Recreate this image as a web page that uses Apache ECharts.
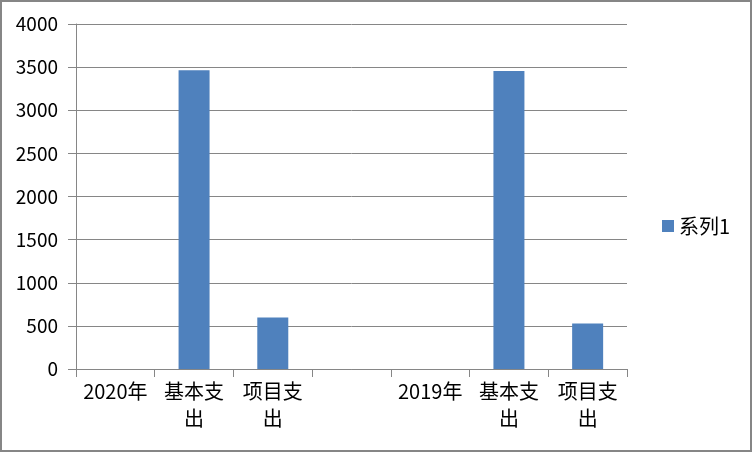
<!DOCTYPE html>
<html><head><meta charset="utf-8">
<script src="https://cdn.jsdelivr.net/npm/echarts@6/dist/echarts.min.js"></script>
<style>html,body{margin:0;padding:0;background:#fff}#c{width:752px;height:452px}</style>
</head><body><div id="c"></div>
<script>
var categories = ["2020年", "基本支出", "项目支出", "", "2019年", "基本支出", "项目支出"];
var seriesName = "系列1";
var values = [null, 3465, 596, null, null, 3454, 527];
var yMin = 0, yMax = 4000, yStep = 500;

var chart = echarts.init(document.getElementById('c'));
var font = '"Noto Sans CJK SC", "Liberation Sans", sans-serif';
chart.setOption({
  animation: false,
  backgroundColor: '#fff',
  textStyle: {fontFamily: font},
  graphic: [{type: 'rect', shape: {x: 1, y: 1, width: 750, height: 450}, style: {fill: 'none', stroke: '#868686', lineWidth: 2}, silent: true}],
  grid: {left: 76, right: 125, top: 24, bottom: 83},
  legend: {
    orient: 'vertical', left: 657, top: 'middle', data: [seriesName],
    itemWidth: 12, itemHeight: 12, itemGap: 8, icon: 'rect',
    textStyle: {fontSize: 20, color: '#000', fontFamily: font}
  },
  xAxis: {
    type: 'category', data: categories,
    axisLine: {lineStyle: {color: '#868686', width: 1}},
    axisTick: {show: true, length: 8, lineStyle: {color: '#868686'}},
    axisLabel: {
      interval: 0, color: '#000', fontSize: 20, lineHeight: 27, margin: 9,
      formatter: function (v) { return v.length > 3 && v.indexOf('年') < 0 ? v.slice(0, 3) + '\n' + v.slice(3) : v; }
    }
  },
  yAxis: {
    type: 'value', min: yMin, max: yMax, interval: yStep,
    axisLine: {show: true, lineStyle: {color: '#868686'}},
    axisTick: {show: true, length: 8, lineStyle: {color: '#868686'}},
    splitLine: {lineStyle: {color: '#868686', width: 1}},
    axisLabel: {color: '#000', fontSize: 19, margin: 18, formatter: function (v) { return String(v); }}
  },
  series: [{
    name: seriesName, type: 'bar', data: values, barWidth: 31,
    itemStyle: {color: '#4F81BD'}
  }]
});
</script></body></html>
